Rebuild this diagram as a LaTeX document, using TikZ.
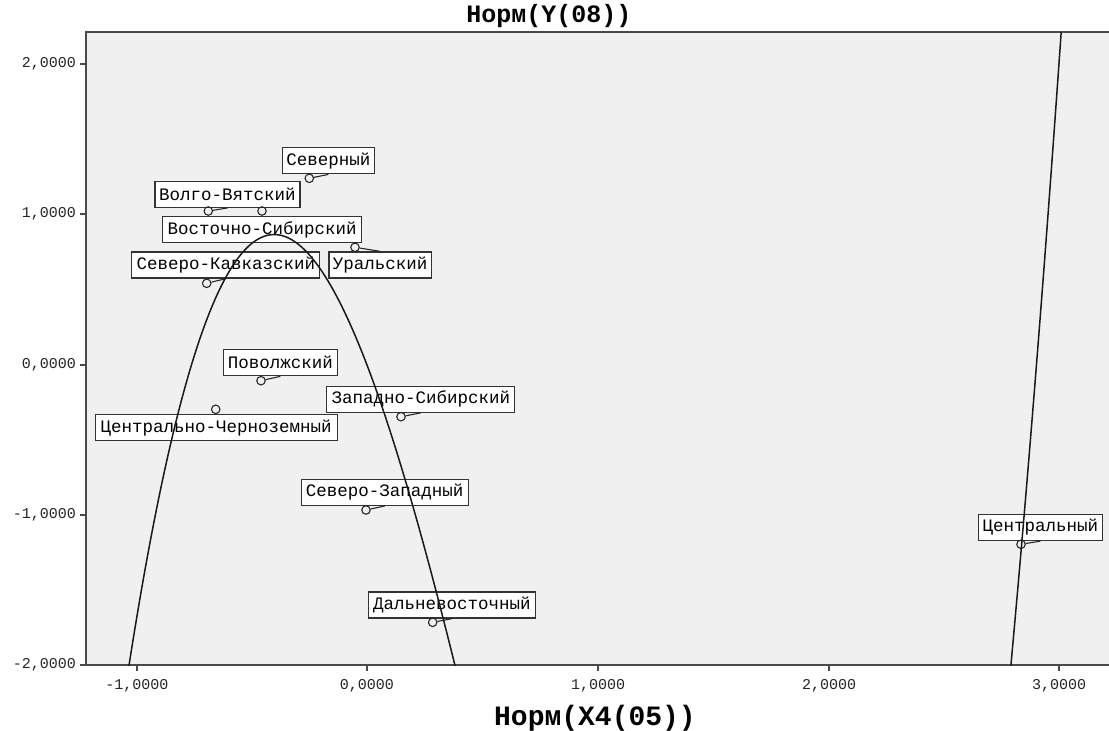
\documentclass[tikz,border=0pt]{standalone}
\usepackage{fontspec}
\setmonofont{Liberation Mono}
\newfontfamily\lblfont{Liberation Mono}
\definecolor{plotbg}{HTML}{F0F0F0}
\definecolor{framec}{HTML}{4A4A4A}
\begin{document}
\begin{tikzpicture}[x=1pt,y=-1pt,
  lbl/.style={draw=black!80, fill=white, line width=1.3pt, inner xsep=4pt, inner ysep=0pt,
    minimum height=26pt, font=\lblfont\fontsize{17.5}{20}\selectfont},
  ptc/.style={circle, draw=black!85, line width=1.1pt, minimum size=8.5pt, inner sep=0pt},
  conn/.style={draw=black!85, line width=1.1pt},
  tick/.style={draw=framec, line width=1.2pt},
  ticklab/.style={font=\ttfamily\fontsize{15}{17}\selectfont, text=black!85, inner sep=0pt},
  axtitle/.style={font=\ttfamily\bfseries\fontsize{28}{30}\selectfont, inner sep=0pt},
  fitcurve/.style={draw=black!90, line width=1.5pt}]
\useasboundingbox (0,0) rectangle (1109,731);
\fill[white] (0,0) rectangle (1109,731);
\fill[plotbg] (86,32) rectangle (1109,665);
% frame
\draw[framec, line width=1.2pt] (1109,32) -- (86,32) -- (86,665) -- (1109,665);
% y ticks
\foreach \yy/\t in {64/{2,0000},214/{1,0000},365/{0,0000},515/{-1,0000},665/{-2,0000}}{
  \draw[tick] (80,\yy) -- (86,\yy);
  \node[ticklab, anchor=east] at (76,\yy) {\t};
}
% x ticks
\foreach \xx/\t in {137/{-1,0000},367/{0,0000},598/{1,0000},829/{2,0000},1059/{3,0000}}{
  \draw[tick] (\xx,665) -- (\xx,671);
  \node[ticklab] at (\xx,686) {\t};
}
% titles
\node[axtitle, font=\ttfamily\bfseries\fontsize{25}{27}\selectfont] (title) at (549,16) {Норм(Y(08))};
\node[axtitle] (xlab) at (595,718) {Норм(X4(05))};
% labels
\node[lbl, minimum width=91pt] (l1) at (328.3,160.8) {Северный};
\node[lbl, minimum width=145pt] (l2) at (227.5,194.3) {Волго-Вятский};
\node[lbl, minimum width=199pt] (l3) at (262.2,229.7) {Восточно-Сибирский};
\node[lbl, minimum width=102pt] (l4) at (380.2,265) {Уральский};
\node[lbl, minimum width=188pt] (l5) at (225.8,265) {Северо-Кавказский};
\node[lbl, minimum width=114pt] (l6) at (280.3,362.7) {Поволжский};
\node[lbl, minimum width=242pt] (l7) at (216.2,427.7) {Центрально-Черноземный};
\node[lbl, minimum width=188pt] (l8) at (420.8,399.2) {Западно-Сибирский};
\node[lbl, minimum width=167pt] (l9) at (384.7,492.3) {Северо-Западный};
\node[lbl, minimum width=167pt] (l10) at (452,605) {Дальневосточный};
\node[lbl, minimum width=124pt] (l11) at (1040.3,527.5) {Центральный};
% points
\node[ptc] (p1) at (309.3,178.3) {};
\node[ptc] (p2) at (208.3,211) {};
\node[ptc] (p3) at (262,211) {};
\node[ptc] (p4) at (355,247.3) {};
\node[ptc] (p5) at (206.7,283.3) {};
\node[ptc] (p6) at (261,380.7) {};
\node[ptc] (p7) at (215.7,409.3) {};
\node[ptc] (p8) at (401,416.7) {};
\node[ptc] (p9) at (366,510) {};
\node[ptc] (p10) at (432.7,622.3) {};
\node[ptc] (p11) at (1021,544.3) {};
% connectors
\draw[conn] (p1) -- (l1.south);
\draw[conn] (p2) -- (l2.south);
\draw[conn] (p3) -- (l3.north);
\draw[conn] (p4) -- (l4.north);
\draw[conn] (p5) -- (l5.south);
\draw[conn] (p6) -- (l6.south);
\draw[conn] (p7) -- (l7.north);
\draw[conn] (p8) -- (l8.south);
\draw[conn] (p9) -- (l9.south);
\draw[conn] (p10) -- (l10.south);
\draw[conn] (p11) -- (l11.south);
% cubic fit curve
\begin{scope}
\clip (86,32) rectangle (1109,665);
\draw[fitcurve] plot[domain=-1.05:0.40, samples=160]
  ({367+230.7*\x},{365-150.25*(1.821*(\x+1.0317)*(\x-0.3814)*(\x-2.791)-2)});
\draw[fitcurve] plot[domain=2.78:3.02, samples=40]
  ({367+230.7*\x},{365-150.25*(1.821*(\x+1.0317)*(\x-0.3814)*(\x-2.791)-2)});
\end{scope}
\end{tikzpicture}
\end{document}
